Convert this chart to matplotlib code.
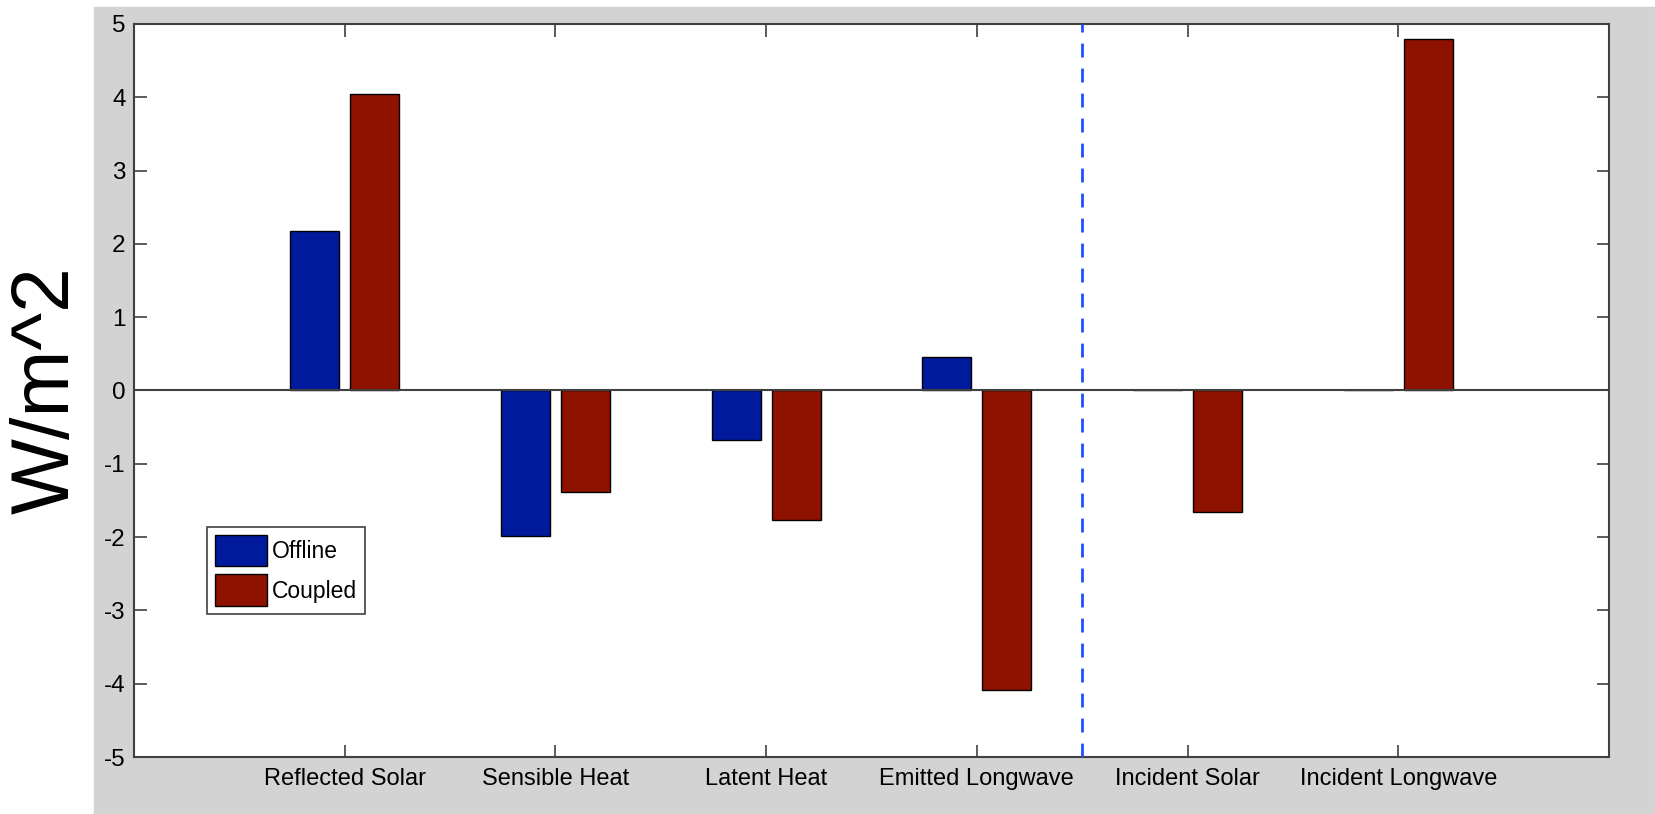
import numpy as np
import matplotlib
matplotlib.use("Agg")
import matplotlib.pyplot as plt
from matplotlib.patches import Rectangle

plt.rcParams['font.family'] = ['Liberation Sans', 'DejaVu Sans']

# Data
categories = ["Reflected Solar", "Sensible Heat", "Latent Heat",
              "Emitted Longwave", "Incident Solar", "Incident Longwave"]
offline = [2.18, -1.99, -0.68, 0.46, 0.0, 0.0]
coupled = [4.04, -1.38, -1.77, -4.08, -1.66, 4.80]
series_names = ["Offline", "Coupled"]
yticks = list(range(-5, 6))

blue = "#001a9e"
red = "#8f1100"
grey = "#d3d3d3"

fig = plt.figure(figsize=(16.56, 8.14), dpi=100)
W, H = 1656, 814

# grey figure panel (MATLAB style) starting right of the big y label
fig.patches.append(Rectangle((94 / W, 0), 1 - 94 / W, 1 - 7 / H,
                             transform=fig.transFigure, color=grey, zorder=-5))

ax = fig.add_axes([134 / W, 1 - 757 / H, (1609 - 134) / W, (757 - 24) / H])
ax.set_zorder(2)
ax.set_facecolor("white")

x = np.arange(1, len(categories) + 1)
off = 0.142
bw = 0.232
ax.bar(x - off, offline, bw, color=blue, edgecolor="black", linewidth=1,
       label=series_names[0], zorder=2)
ax.bar(x + off, coupled, bw, color=red, edgecolor="black", linewidth=1,
       label=series_names[1], zorder=2)

ax.axhline(0, color="#404040", linewidth=1.5, zorder=3)
ax.axvline(4.5, color="#1f4fff", linewidth=2, linestyle=(0, (5, 4)), zorder=3)

ax.set_xlim(0, 7)
ax.set_ylim(-5, 5)
ax.set_xticks(x)
ax.set_xticklabels(categories, fontsize=17)
ax.set_yticks(yticks)
ax.set_yticklabels([str(v) for v in yticks], fontsize=17.5)
ax.tick_params(direction="in", length=9, width=1.2, color="#404040",
               top=True, right=True, pad=8)
ax.tick_params(axis="y", pad=6)
for s in ax.spines.values():
    s.set_color("#404040")
    s.set_linewidth(1.5)

fig.text(48 / W, 1 - 390 / H, "W/m^2", rotation=90, fontsize=58,
         ha="center", va="center")

leg = ax.legend(loc="lower left", bbox_to_anchor=(0.0495, 0.195),
                borderaxespad=0, fontsize=16.5, fancybox=False,
                edgecolor="#404040", framealpha=1,
                handlelength=2.25, handleheight=1.75, labelspacing=0.35,
                borderpad=0.35, handletextpad=0.25)
leg.get_frame().set_linewidth(1.2)

fig.savefig("out.png", dpi=100, facecolor="white")
